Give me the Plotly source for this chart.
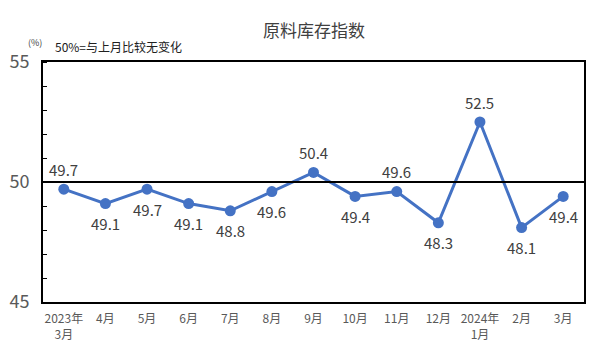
import plotly.graph_objects as go

categories = ["2023年<br>3月", "4月", "5月", "6月", "7月", "8月", "9月", "10月", "11月", "12月", "2024年<br>1月", "2月", "3月"]
values = [49.7, 49.1, 49.7, 49.1, 48.8, 49.6, 50.4, 49.4, 49.6, 48.3, 52.5, 48.1, 49.4]
label_side = ["up", "down", "down", "down", "down", "down", "up", "down", "up", "down", "up", "down", "down"]
baseline = 50
y_ticks = [45, 50, 55]

FONT = "Noto Sans CJK SC"
LINE_COLOR = "#4472C4"

fig = go.Figure()
fig.add_trace(go.Scatter(
    x=list(range(len(categories))), y=values, mode="lines+markers",
    line=dict(color=LINE_COLOR, width=3),
    marker=dict(color=LINE_COLOR, size=11),
    hoverinfo="skip", showlegend=False,
))

for i, (v, s) in enumerate(zip(values, label_side)):
    fig.add_annotation(x=i, y=v, text=f"{v:.1f}", showarrow=False,
                       yshift=20 if s == "up" else -20,
                       font=dict(family=FONT, size=15, color="#404040"))

fig.add_shape(type="line", xref="paper", x0=0, x1=1, yref="y", y0=baseline, y1=baseline,
              line=dict(color="black", width=2))

fig.add_annotation(xref="paper", yref="paper", x=0.5, y=1, yshift=47, text="原料库存指数",
                   showarrow=False, font=dict(family=FONT, size=17, color="#404040"))
fig.add_annotation(xref="paper", yref="paper", x=-0.032, y=1, yshift=28, xanchor="left",
                   text="(%)", showarrow=False, font=dict(family=FONT, size=9, color="#404040"))
fig.add_annotation(xref="paper", yref="paper", x=0.018, y=1, yshift=26, xanchor="left",
                   text="50%=与上月比较无变化", showarrow=False,
                   font=dict(family=FONT, size=12, color="#202020"))

fig.update_xaxes(
    tickmode="array", tickvals=list(range(len(categories))), ticktext=categories,
    range=[-0.5, len(categories) - 0.5],
    showline=True, mirror=True, linecolor="black", linewidth=2,
    showgrid=False, zeroline=False, ticks="",
    tickfont=dict(family=FONT, size=12, color="#595959"),
    ticklabelstandoff=5,
)
fig.update_yaxes(
    range=[45, 55], tickvals=y_ticks, ticks="",
    showline=True, mirror=True, linecolor="black", linewidth=2,
    showgrid=False, zeroline=False,
    minor=dict(ticks="inside", dtick=1, ticklen=4, tickcolor="black", tickwidth=1),
    tickfont=dict(family=FONT, size=18, color="#595959"),
    ticklabelstandoff=8,
)

fig.update_layout(
    width=591, height=354,
    margin=dict(l=43, r=5, t=62, b=52),
    plot_bgcolor="white", paper_bgcolor="white",
)

fig.write_html("out.html")
